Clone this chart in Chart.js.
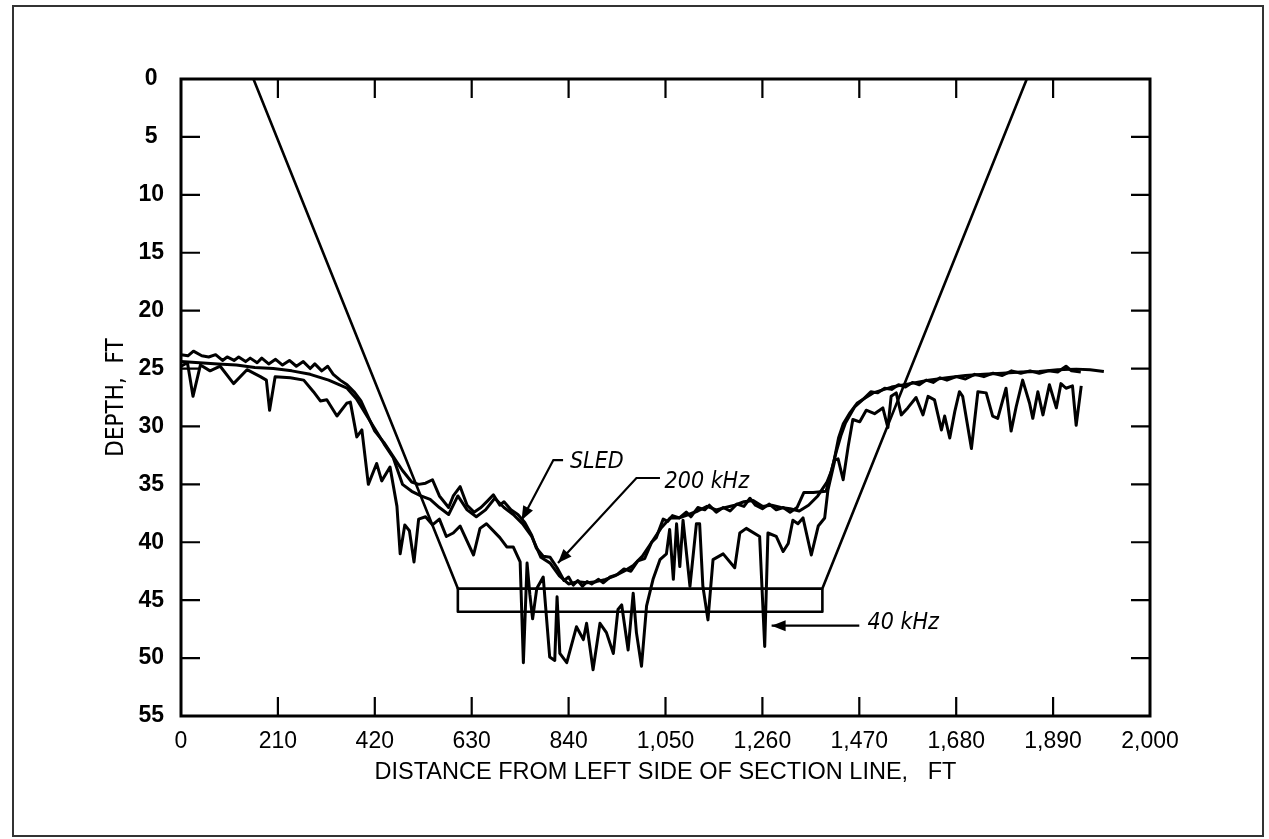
<!DOCTYPE html>
<html>
<head>
<meta charset="utf-8">
<script src="https://cdn.jsdelivr.net/npm/chart.js@4.4.1/dist/chart.umd.min.js"></script>
<style>
  html, body { margin: 0; padding: 0; background: #fff; }
  #wrap { width: 1269px; height: 839px; }
</style>
</head>
<body>
<div id="wrap"><canvas id="depthChart" width="1269" height="839"></canvas></div>
<script>
// Depth profile across the section line (distance in ft, depth in ft)

// SLED soundings
const sledX = [0, 40, 80, 120, 160, 200, 240, 280, 320, 360,
  380, 400, 420, 440, 460, 480, 500, 520, 540, 560,
  580, 600, 620, 640, 660, 680, 700, 720, 740, 760,
  780, 800, 820, 840, 860, 880, 900, 920, 940, 960,
  980, 1000, 1020, 1040, 1060, 1080, 1100, 1120, 1140, 1160,
  1180, 1200, 1220, 1240, 1260, 1280, 1300, 1320, 1340, 1360,
  1380, 1400, 1410, 1420, 1430, 1440, 1460, 1480, 1500, 1540,
  1580, 1620, 1660, 1700, 1740, 1780, 1820, 1860, 1900, 1940,
  1970, 2000];
const sledDepth = [24.4, 24.5, 24.6, 24.7, 24.9, 25.0, 25.2, 25.5, 26.0, 26.7,
  27.6, 28.9, 30.2, 31.5, 32.7, 35.0, 35.6, 36.0, 36.3, 37.0,
  37.6, 36.0, 37.2, 37.8, 37.2, 36.2, 37.0, 37.6, 38.4, 39.5,
  41.3, 41.8, 42.9, 43.6, 43.4, 43.5, 43.4, 43.2, 42.9, 42.5,
  42.0, 41.2, 40.0, 38.8, 37.9, 37.9, 37.6, 37.3, 36.9, 37.2,
  37.0, 36.8, 36.5, 36.4, 36.9, 36.8, 37.0, 37.1, 37.3, 36.8,
  36.0, 34.8, 33.8, 32.2, 30.8, 29.7, 28.3, 27.6, 27.1, 26.6,
  26.3, 26.0, 25.8, 25.6, 25.5, 25.4, 25.3, 25.25, 25.1, 25.05,
  25.1, 25.25];

// 200 kHz soundings
const khz200X = [0, 15, 27, 45, 60, 75, 90, 100, 115, 125,
  140, 150, 165, 175, 190, 205, 220, 235, 250, 265,
  280, 290, 305, 318, 330, 345, 360, 375, 390, 405,
  420, 440, 460, 480, 500, 515, 530, 545, 560, 580,
  590, 605, 620, 635, 650, 665, 677, 691, 700, 715,
  730, 745, 760, 770, 785, 800, 815, 830, 840, 850,
  860, 870, 880, 890, 905, 915, 930, 945, 960, 975,
  990, 1005, 1020, 1030, 1045, 1055, 1065, 1080, 1095, 1105,
  1120, 1135, 1145, 1160, 1175, 1190, 1205, 1220, 1233, 1245,
  1260, 1275, 1290, 1305, 1320, 1335, 1350, 1370, 1398, 1405,
  1415, 1425, 1435, 1450, 1465, 1480, 1495, 1510, 1525, 1540,
  1555, 1570, 1585, 1600, 1615, 1630, 1645, 1660, 1680, 1700,
  1720, 1740, 1760, 1780, 1800, 1820, 1840, 1860, 1880, 1900,
  1918, 1930, 1950];
const khz200Depth = [23.8, 23.9, 23.5, 23.9, 24.0, 23.8, 24.3, 24.0, 24.3, 24.0,
  24.4, 24.1, 24.5, 24.1, 24.6, 24.2, 24.7, 24.3, 24.8, 24.4,
  25.0, 24.6, 25.2, 24.8, 25.5, 26.0, 26.4, 27.0, 27.8, 29.1,
  30.4, 31.4, 32.6, 33.8, 34.8, 35.0, 34.9, 34.6, 36.0, 37.0,
  36.0, 35.2, 36.8, 37.4, 37.0, 36.4, 35.9, 36.8, 36.5, 37.2,
  37.6, 38.3, 39.4, 40.5, 41.2, 41.3, 42.2, 43.3, 43.0, 43.7,
  43.3, 43.8, 43.4, 43.6, 43.2, 43.5, 43.0, 42.8, 42.3, 42.5,
  41.6, 41.4, 40.0, 39.6, 38.0, 38.2, 37.7, 37.9, 37.4, 37.8,
  37.0, 37.2, 36.8, 37.4, 37.0, 37.3, 36.7, 36.9, 36.2, 36.8,
  37.1, 36.7, 37.2, 37.0, 37.4, 37.0, 35.7, 35.7, 35.6, 34.5,
  33.0, 31.0, 29.8, 28.8, 28.0, 27.6, 27.0, 27.1, 26.7, 26.8,
  26.4, 26.6, 26.2, 26.4, 26.0, 26.2, 25.8, 26.0, 25.7, 25.9,
  25.5, 25.7, 25.4, 25.6, 25.2, 25.4, 25.2, 25.4, 25.2, 25.3,
  24.8, 25.2, 25.3];

// 40 kHz soundings
const khz40X = [0, 14, 26, 42, 63, 85, 114, 143, 172, 185,
  192, 204, 237, 266, 287, 302, 316, 338, 359, 367,
  381, 392, 406, 424, 435, 453, 468, 475, 485, 495,
  505, 515, 530, 545, 560, 575, 590, 605, 634, 648,
  662, 691, 706, 720, 735, 742, 750, 756, 762, 771,
  785, 799, 810, 815, 821, 836, 857, 872, 879, 893,
  908, 922, 937, 947, 955, 969, 980, 987, 998, 1009,
  1023, 1038, 1052, 1059, 1067, 1074, 1081, 1088, 1103, 1117,
  1124, 1131, 1142, 1153, 1175, 1200, 1211, 1225, 1254, 1265,
  1272, 1290, 1305, 1316, 1326, 1337, 1348, 1366, 1381, 1395,
  1402, 1417, 1424, 1435, 1446, 1456, 1471, 1485, 1503, 1521,
  1532, 1539, 1550, 1561, 1575, 1593, 1608, 1619, 1633, 1648,
  1655, 1666, 1677, 1687, 1694, 1713, 1727, 1745, 1759, 1770,
  1788, 1799, 1810, 1824, 1839, 1846, 1857, 1868, 1882, 1897,
  1907, 1918, 1932, 1940, 1951];
const khz40Depth = [24.8, 24.5, 27.4, 24.7, 25.2, 24.8, 26.3, 25.1, 25.7, 26.0,
  28.6, 25.7, 25.8, 26.0, 27.0, 27.8, 27.7, 29.1, 28.0, 27.9,
  30.9, 30.3, 35.0, 33.2, 34.7, 33.5, 36.9, 41.0, 38.5, 39.0,
  41.7, 38.0, 37.8, 38.5, 38.0, 39.5, 39.2, 38.6, 41.1, 38.8,
  38.4, 39.6, 40.4, 40.4, 41.7, 50.4, 41.8, 44.5, 46.6, 44.0,
  43.0, 49.9, 50.2, 44.7, 49.6, 50.4, 47.3, 48.4, 47.0, 51.0,
  47.0, 47.8, 49.6, 45.8, 45.4, 49.3, 44.4, 47.8, 50.7, 45.5,
  43.2, 41.5, 41.0, 38.9, 43.2, 38.4, 42.1, 38.1, 43.8, 38.4,
  38.4, 43.8, 46.7, 41.5, 41.0, 42.2, 39.2, 38.8, 39.5, 49.0,
  39.2, 39.5, 40.8, 40.1, 38.1, 38.4, 37.9, 41.1, 38.6, 37.9,
  35.5, 32.9, 32.8, 34.6, 31.7, 29.4, 29.6, 28.6, 28.9, 28.4,
  30.1, 27.4, 27.1, 29.0, 28.4, 27.5, 29.0, 27.4, 27.7, 30.3,
  29.1, 31.0, 28.7, 27.0, 27.4, 31.9, 27.0, 27.1, 29.1, 29.3,
  26.7, 30.4, 28.3, 26.0, 28.0, 29.3, 27.0, 29.0, 26.4, 28.4,
  26.3, 26.7, 26.5, 29.9, 26.5];

// design channel template (side slopes + 44 ft bottom) and 46 ft overdepth box
const templateX = [157, 600, 1390, 1833];
const templateDepth = [0, 44, 44, 0];
const overdepthX = [600, 600, 1390, 1390];
const overdepthDepth = [44, 46, 46, 44];

// axis ticks (last tick is printed as 2,000 on the original)
const xTickLabels = ['0', '210', '420', '630', '840', '1,050', '1,260', '1,470', '1,680', '1,890', '2,000'];
const xTitle = 'DISTANCE FROM LEFT SIDE OF SECTION LINE,   FT';
const yTitle = 'DEPTH,  FT';

// callout labels, anchored in data units
const noteText = ['SLED', '200 kHz', '40 kHz'];
const noteX = [843, 1048, 1488];
const noteDepth = [33.05, 34.8, 47.0];
const noteArrows = [
  [[828, 32.9], [807, 32.9], [738, 38.1]],
  [[1038, 34.45], [987, 34.45], [817, 41.8]],
  [[1470, 47.2], [1280, 47.2]]
];

const SANS = '"Liberation Sans", Arial, Helvetica, sans-serif';
const NARROW = '"Liberation Sans Narrow", "Arial Narrow", "DejaVu Sans Condensed", sans-serif';

const toPoints = (xs, ys) => xs.map((x, i) => ({ x: x, y: ys[i] }));

const lineSet = (xs, ys, width) => ({
    data: toPoints(xs, ys),
    borderColor: '#000',
    borderWidth: width,
    pointRadius: 0,
    tension: 0,
    fill: false,
    borderJoinStyle: 'round'
});

// plot frame, inward ticks and page border
const framePlugin = {
    id: 'frame',
    afterDraw(chart) {
        const { ctx, chartArea: a, scales: { x, y } } = chart;
        ctx.save();
        ctx.strokeStyle = '#333';
        ctx.lineWidth = 2;
        ctx.strokeRect(13, 6, 1250, 830);

        ctx.strokeStyle = '#000';
        ctx.lineWidth = 3;
        ctx.strokeRect(a.left, a.top, a.right - a.left, a.bottom - a.top);

        ctx.lineWidth = 2.2;
        ctx.beginPath();
        x.ticks.forEach(t => {
            if (t.value <= x.min || t.value >= x.max) return;
            const px = x.getPixelForValue(t.value);
            ctx.moveTo(px, a.top); ctx.lineTo(px, a.top + 19);
            ctx.moveTo(px, a.bottom); ctx.lineTo(px, a.bottom - 19);
        });
        y.ticks.forEach(t => {
            if (t.value <= y.min || t.value >= y.max) return;
            const py = y.getPixelForValue(t.value);
            ctx.moveTo(a.left, py); ctx.lineTo(a.left + 19, py);
            ctx.moveTo(a.right, py); ctx.lineTo(a.right - 19, py);
        });
        ctx.stroke();
        ctx.restore();
    }
};

// callout text with leader arrows
const notesPlugin = {
    id: 'notes',
    afterDatasetsDraw(chart) {
        const { ctx, scales: { x, y } } = chart;
        ctx.save();
        ctx.fillStyle = '#000';
        ctx.strokeStyle = '#000';
        ctx.lineWidth = 2.2;
        ctx.font = 'italic 23px ' + NARROW;
        ctx.textAlign = 'left';
        ctx.textBaseline = 'middle';
        noteText.forEach((txt, i) => {
            ctx.fillText(txt, x.getPixelForValue(noteX[i]), y.getPixelForValue(noteDepth[i]));
            const pts = noteArrows[i].map(p => [x.getPixelForValue(p[0]), y.getPixelForValue(p[1])]);
            ctx.beginPath();
            pts.forEach((p, k) => k === 0 ? ctx.moveTo(p[0], p[1]) : ctx.lineTo(p[0], p[1]));
            ctx.stroke();
            // arrow head at the last point
            const [tx, ty] = pts[pts.length - 1];
            const [fx, fy] = pts[pts.length - 2];
            const ang = Math.atan2(ty - fy, tx - fx);
            const len = 14, half = 5.5;
            ctx.beginPath();
            ctx.moveTo(tx, ty);
            ctx.lineTo(tx - len * Math.cos(ang) + half * Math.sin(ang), ty - len * Math.sin(ang) - half * Math.cos(ang));
            ctx.lineTo(tx - len * Math.cos(ang) - half * Math.sin(ang), ty - len * Math.sin(ang) + half * Math.cos(ang));
            ctx.closePath();
            ctx.fill();
        });
        ctx.restore();
    }
};

const ctx = document.getElementById('depthChart').getContext('2d');

new Chart(ctx, {
    type: 'line',
    data: {
        datasets: [
            lineSet(templateX, templateDepth, 2.6),
            lineSet(overdepthX, overdepthDepth, 2.6),
            lineSet(khz40X, khz40Depth, 3),
            lineSet(khz200X, khz200Depth, 3),
            lineSet(sledX, sledDepth, 3)
        ]
    },
    options: {
        responsive: false,
        animation: false,
        devicePixelRatio: 1,
        layout: { padding: { left: 95, top: 79, right: 119, bottom: 23 } },
        plugins: {
            legend: { display: false },
            tooltip: { enabled: false }
        },
        scales: {
            x: {
                type: 'linear',
                min: 0,
                max: 2100,
                grid: { display: false, drawTicks: false },
                border: { display: false },
                ticks: {
                    stepSize: 210,
                    autoSkip: false,
                    maxRotation: 0,
                    padding: 12,
                    color: '#000',
                    font: { family: SANS, size: 23 },
                    callback: (val, i) => xTickLabels[i]
                },
                title: {
                    display: true,
                    text: xTitle,
                    color: '#000',
                    font: { family: SANS, size: 23.5 },
                    padding: { top: 0, bottom: 29 }
                },
                afterFit: (scale) => { scale.height = 100; }
            },
            y: {
                reverse: true,
                min: 0,
                max: 55,
                grid: { display: false, drawTicks: false },
                border: { display: false },
                ticks: {
                    stepSize: 5,
                    padding: 17,
                    crossAlign: 'center',
                    color: '#000',
                    font: { family: SANS, size: 23, weight: 'bold' }
                },
                title: {
                    display: true,
                    text: yTitle,
                    color: '#000',
                    font: { family: NARROW, size: 24 },
                    padding: { top: 7, bottom: 0 }
                },
                afterFit: (scale) => { scale.width = 86; }
            }
        }
    },
    plugins: [framePlugin, notesPlugin]
});
</script>
</body>
</html>
